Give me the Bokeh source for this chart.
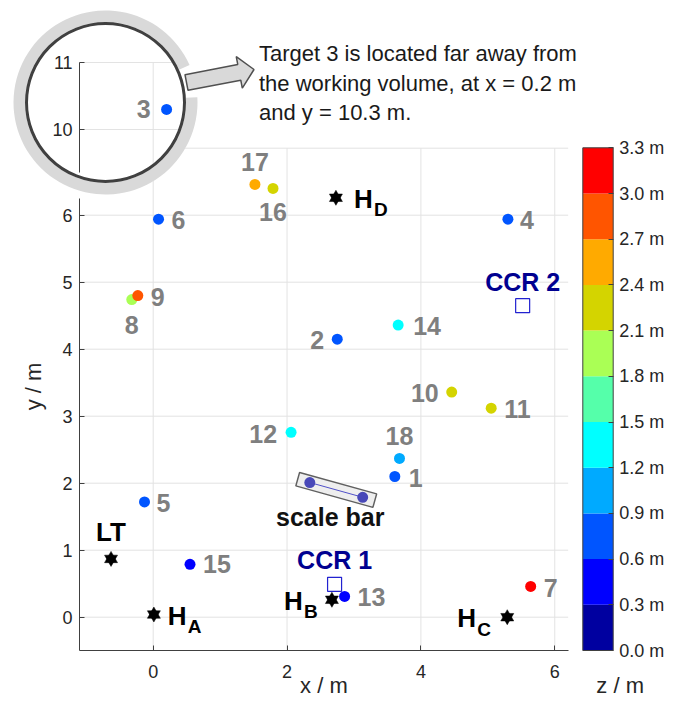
import numpy as np
from bokeh.plotting import figure
from bokeh.models import (Range1d, LinearAxis, FixedTicker, PrintfTickFormatter,
                          ColumnDataSource, LinearColorMapper, Label)
from bokeh.core.properties import value
from bokeh.embed import file_html
from bokeh.resources import INLINE

# ---------------- data ----------------
target_id = list(range(1, 19))
target_x = [3.61, 2.75, 0.20, 5.30, -0.13, 0.08, 5.64, -0.32, -0.23, 4.46, 5.05, 2.06, 2.86, 3.66, 0.55, 1.79, 1.52, 3.68]
target_y = [2.10, 4.15, 10.30, 5.94, 1.72, 5.94, 0.46, 4.74, 4.80, 3.36, 3.12, 2.76, 0.31, 4.36, 0.79, 6.40, 6.46, 2.37]
target_z = [0.72, 0.78, 0.70, 0.81, 0.66, 0.85, 3.15, 1.95, 2.85, 2.25, 2.20, 1.38, 0.45, 1.35, 0.50, 2.28, 2.55, 1.05]

station_name = ["LT", "A", "B", "C", "D"]
station_x = [-0.63, 0.01, 2.67, 5.29, 2.73]
station_y = [0.87, 0.04, 0.26, 0.00, 6.26]

ccr_name = ["CCR 1", "CCR 2"]
ccr_x = [2.71, 5.52]
ccr_y = [0.49, 4.65]

scalebar_x = [2.34, 3.13]
scalebar_y = [2.01, 1.79]

x_ticks = [0, 2, 4, 6]
y_ticks = [0, 1, 2, 3, 4, 5, 6, 7]
inset_y_ticks = [10, 11]
x_limits = (-1.1, 6.2)
y_limits = (-0.5, 7.0)

z_levels = [0.0, 0.3, 0.6, 0.9, 1.2, 1.5, 1.8, 2.1, 2.4, 2.7, 3.0, 3.3]
palette = ["#0000A0", "#0000FF", "#0055FF", "#00AAFF", "#00FFFF", "#55FFAA",
           "#AAFF55", "#D4D400", "#FFAA00", "#FF5500", "#FF0000"]

note_lines = ["Target 3 is located far away from",
              "the working volume, at x = 0.2 m",
              "and y = 10.3 m."]

# ---------------- layout (pixels of the picture) ----------------
W, H, M = 667, 697, 0
PX_X0, PX_PER_X = 152.7, 66.93
PY_Y0, PX_PER_Y = 616.7, 67.0


def xd(px):
    return (px - PX_X0) / PX_PER_X


def yd(py):
    return (PY_Y0 - py) / PX_PER_Y


INSET_SHIFT = 10.0 - yd(129.0)
CB_PY0, CB_PY1 = 650.0, 147.3
CB_PX0, CB_PX1 = 582.3, 612.7


def zd(py):
    return z_levels[0] + (CB_PY0 - py) * (z_levels[-1] - z_levels[0]) / (CB_PY0 - CB_PY1)


def cbxd(px):
    return (px - CB_PX0) / (CB_PX1 - CB_PX0)


FONT = value("Liberation Sans")
AX = "#262626"
AXLINE = "#404040"
GRID = "#e3e3e3"
LABEL_GRAY = "#7f7f7f"
NAVY = "#000090"
Y_AXIS_TOP = 6.25

# label offsets in screen px (dx, dy of the text's vertical centre), alignment
label_offset = {1: (14, 1, "left"), 2: (-13, 1, "right"), 3: (-16, 0, "right"),
                4: (12, 1, "left"), 5: (12, 1, "left"), 6: (13, 1, "left"),
                7: (13, 2, "left"), 8: (0, 25, "center"), 9: (13, 1, "left"),
                10: (-13, 1, "right"), 11: (13, 1, "left"), 12: (-14, 2, "right"),
                13: (13, 1, "left"), 14: (15, 1, "left"), 15: (13, 0, "left"),
                16: (0, 24, "center"), 17: (0, -22, "center"), 18: (0, -22, "center")}
h_offset = {"A": 14, "B": -48, "C": -50, "D": 18}

p = figure(width=W, height=H,
           x_range=Range1d(xd(M), xd(M + W)),
           y_range=Range1d(yd(M + H), yd(M)),
           x_axis_location=None, y_axis_location=None,
           toolbar_location=None, output_backend="svg",
           min_border=0, outline_line_color=None,
           background_fill_color="white", border_fill_color="white")
p.xgrid.visible = False
p.ygrid.visible = False
p.extra_y_ranges = {"inset": Range1d(yd(M + H) + INSET_SHIFT, yd(M) + INSET_SHIFT),
                    "cb": Range1d(zd(M + H), zd(M))}
p.extra_x_ranges = {"cbx": Range1d(cbxd(M), cbxd(M + W))}

# grid
p.segment(x0=x_ticks, y0=[y_limits[0]] * len(x_ticks), x1=x_ticks, y1=[y_limits[1]] * len(x_ticks),
          line_color=GRID, line_width=1)
p.segment(x0=[x_limits[0]] * len(y_ticks), y0=y_ticks, x1=[x_limits[1]] * len(y_ticks), y1=y_ticks,
          line_color=GRID, line_width=1)

# colour bar
p.quad(left=0, right=1, bottom=z_levels[:-1], top=z_levels[1:], fill_color=palette,
       line_color=None, x_range_name="cbx", y_range_name="cb")
p.quad(left=0, right=1, bottom=z_levels[0], top=z_levels[-1], fill_color=None,
       line_color=AXLINE, line_width=1, x_range_name="cbx", y_range_name="cb")

mapper = LinearColorMapper(palette=palette, low=z_levels[0], high=z_levels[-1])

# scale bar
sb_mx, sb_my = np.mean(scalebar_x), np.mean(scalebar_y)
sb_ang = np.arctan2((scalebar_y[1] - scalebar_y[0]) * PX_PER_Y, (scalebar_x[1] - scalebar_x[0]) * PX_PER_X)
p.rect(x=[sb_mx], y=[sb_my], width=80, height=14, angle=sb_ang, width_units="screen",
       height_units="screen", fill_color="#eeeeee", line_color="#606060", line_width=1.5)
p.line(scalebar_x, scalebar_y, line_color="#5050c8", line_width=1)
p.scatter(scalebar_x, scalebar_y, size=11, fill_color="#4848b8", line_color=None)
p.text(x=[sb_mx], y=[sb_my], text=["scale bar"], x_offset=-6, y_offset=27,
       text_font=FONT, text_font_style="bold", text_font_size="25px", text_color="#111111",
       text_align="center", text_baseline="middle")

# targets inside the main axes / inset
main_idx = [i for i in range(len(target_id)) if target_y[i] <= y_limits[1]]
inset_idx = [i for i in range(len(target_id)) if target_y[i] > y_limits[1]]


def target_source(idx):
    return ColumnDataSource(dict(
        x=[target_x[i] for i in idx], y=[target_y[i] for i in idx],
        z=[target_z[i] for i in idx], label=[str(target_id[i]) for i in idx],
        dx=[label_offset[target_id[i]][0] for i in idx],
        dy=[label_offset[target_id[i]][1] for i in idx],
        align=[label_offset[target_id[i]][2] for i in idx]))


def draw_targets(idx, **rng):
    src = target_source(idx)
    p.scatter("x", "y", source=src, size=11, line_color=None,
              fill_color={"field": "z", "transform": mapper}, **rng)
    for al in ("left", "right", "center"):
        sub = [k for k in range(len(idx)) if src.data["align"][k] == al]
        if not sub:
            continue
        s2 = ColumnDataSource({k: [v[j] for j in sub] for k, v in src.data.items()})
        p.text("x", "y", text="label", x_offset="dx", y_offset="dy", source=s2,
               text_font=FONT, text_font_style="bold", text_font_size="25px",
               text_color=LABEL_GRAY, text_align=al, text_baseline="middle", **rng)


draw_targets(main_idx)

# CCR reflectors
p.scatter(ccr_x, ccr_y, marker="square", size=14, fill_color=None, line_color="#2222d0", line_width=1.2)
p.text(x=ccr_x, y=ccr_y, text=ccr_name, y_offset=-24, text_font=FONT, text_font_style="bold",
       text_font_size="25px", text_color=NAVY, text_align="center", text_baseline="middle")

# stations (hexagram = two triangles)
for mk in ("triangle", "inverted_triangle"):
    p.scatter(station_x, station_y, marker=mk, size=13, fill_color="black", line_color="black",
              line_width=0.5)
p.text(x=[station_x[0]], y=[station_y[0]], text=[station_name[0]], y_offset=-27,
       text_font=FONT, text_font_style="bold", text_font_size="26px", text_color="black",
       text_align="center", text_baseline="middle")
hs = station_name[1:]
p.text(x=station_x[1:], y=station_y[1:], text=["H"] * len(hs), x_offset=[h_offset[n] for n in hs],
       y_offset=1, text_font=FONT, text_font_style="bold", text_font_size="26px",
       text_color="black", text_align="left", text_baseline="middle")
p.text(x=station_x[1:], y=station_y[1:], text=hs, x_offset=[h_offset[n] + 20 for n in hs],
       y_offset=12, text_font=FONT, text_font_style="bold", text_font_size="19px",
       text_color="black", text_align="left", text_baseline="middle")

# ---------------- inset (magnifier) ----------------
icx, icy = xd(105), yd(102) + INSET_SHIFT
p.circle(x=[icx], y=[icy], radius=92, radius_units="screen", fill_color="white",
         line_color=None, y_range_name="inset")
ix_end = xd(182)
iy_end = yd(174) + INSET_SHIFT
p.segment(x0=[x_limits[0]] * len(inset_y_ticks), y0=inset_y_ticks,
          x1=[ix_end] * len(inset_y_ticks), y1=inset_y_ticks,
          line_color=GRID, line_width=1, y_range_name="inset")
p.segment(x0=[0], y0=[inset_y_ticks[-1]], x1=[0], y1=[iy_end], line_color=GRID, line_width=1,
          y_range_name="inset")
draw_targets(inset_idx, y_range_name="inset")
p.annular_wedge(x=[icx], y=[icy], inner_radius=80.5, outer_radius=92,
                inner_radius_units="screen", outer_radius_units="screen",
                start_angle=np.radians(24), end_angle=np.radians(363.3),
                fill_color="#d9d9d9", line_color=None, y_range_name="inset")
p.circle(x=[icx], y=[icy], radius=79, radius_units="screen", fill_color=None,
         line_color="#404040", line_width=3, y_range_name="inset")

# block arrow
S = np.array([186.0, 82.0])
T = np.array([253.5, 69.0])
u = (T - S) / np.linalg.norm(T - S)
n = np.array([-u[1], u[0]])
hw, HW, HL = 8.0, 16.0, 15.0
B = T - u * HL
pts = [S - n * hw, B - n * hw, B - n * HW, T, B + n * HW, B + n * hw, S + n * hw]
p.patch([xd(q[0]) for q in pts], [yd(q[1]) for q in pts], fill_color="#d9d9d9",
        line_color="#505050", line_width=1.5)

# note text (vertical centres of the three lines)
for line, mid in zip(note_lines, [52.8, 82.8, 112.1]):
    p.text(x=[xd(258.5)], y=[yd(mid)], text=[line], text_font=FONT, text_font_size="22px",
           text_color="#1a1a1a", text_align="left", text_baseline="middle")

# ---------------- axes ----------------
axis_style = dict(major_label_text_font="Liberation Sans", major_label_text_font_size="18px",
                  major_label_text_color=AX, axis_line_color=AXLINE, axis_line_width=1,
                  major_tick_in=5, major_tick_out=0, major_tick_line_color=AXLINE,
                  minor_tick_line_color=None)
xaxis = LinearAxis(fixed_location=y_limits[0], bounds=x_limits, ticker=FixedTicker(ticks=x_ticks),
                   major_label_standoff=14, **axis_style)
p.add_layout(xaxis, "below")
yaxis = LinearAxis(fixed_location=x_limits[0], bounds=(y_limits[0], Y_AXIS_TOP),
                   ticker=FixedTicker(ticks=[t for t in y_ticks if t <= Y_AXIS_TOP]),
                   major_label_standoff=7, **axis_style)
p.add_layout(yaxis, "left")
inset_axis = LinearAxis(y_range_name="inset", fixed_location=x_limits[0],
                        bounds=(iy_end + 0.03, inset_y_ticks[-1]),
                        ticker=FixedTicker(ticks=inset_y_ticks), major_label_standoff=7, **axis_style)
p.add_layout(inset_axis, "left")
cb_axis = LinearAxis(x_range_name="cbx", y_range_name="cb", fixed_location=1,
                     bounds=(z_levels[0], z_levels[-1]), ticker=FixedTicker(ticks=z_levels),
                     formatter=PrintfTickFormatter(format="%.1f m"),
                     major_label_text_font="Liberation Sans", major_label_text_font_size="18px",
                     major_label_text_color=AX, axis_line_color=None,
                     major_tick_in=5, major_tick_out=0, major_tick_line_color=AXLINE,
                     minor_tick_line_color=None, major_label_standoff=6)
p.add_layout(cb_axis, "right")

label_style = dict(text_font="Liberation Sans", text_font_size="22px", text_color=AX)
p.add_layout(Label(x=xd(33.3), y=yd(386), text="y / m", angle=np.pi / 2, text_align="center",
                   text_baseline="middle", **label_style))
p.text(x=[sum(x_limits) / 2], y=[yd(684.5)], text=["x / m"], text_font=FONT, text_font_size="22px",
       text_color=AX, text_align="center", text_baseline="middle")
p.text(x=[xd(619.7)], y=[yd(684.5)], text=["z / m"], text_font=FONT, text_font_size="22px",
       text_color=AX, text_align="center", text_baseline="middle")

open("out.html", "w").write(file_html(p, INLINE))
